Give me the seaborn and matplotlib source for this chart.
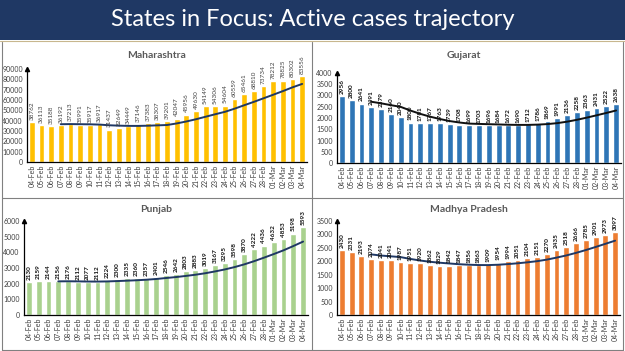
import numpy as np
import pandas as pd
import matplotlib
matplotlib.use("Agg")
import matplotlib.pyplot as plt
import seaborn as sns
from matplotlib.patches import Rectangle
from matplotlib.lines import Line2D

# ------------------------------
# DATA (active cases, 04-Feb to 04-Mar)
# ------------------------------
DATES = [f"{d:02d}-Feb" for d in range(4, 29)] + [f"{d:02d}-Mar" for d in range(1, 5)]

MAHARASHTRA = [38762, 36113, 35188, 36192, 37213, 35991, 35917, 36917, 31437, 32649,
               34449, 37146, 37383, 38307, 39201, 42047, 45956, 49630, 54149, 54306,
               54604, 60559, 65461, 68810, 73734, 78212, 78825, 80302, 83556]
GUJARAT = [2956, 2800, 2641, 2491, 2379, 2160, 2040, 1800, 1781, 1767,
           1763, 1739, 1708, 1699, 1703, 1696, 1684, 1672, 1690, 1712,
           1786, 1869, 1991, 2136, 2258, 2363, 2431, 2522, 2638]
PUNJAB = [2130, 2159, 2144, 2156, 2176, 2112, 2077, 2112, 2224, 2300,
          2335, 2360, 2357, 2401, 2546, 2642, 2803, 2883, 3019, 3167,
          3295, 3598, 3870, 4222, 4436, 4632, 4853, 5198, 5593]
MADHYA_PRADESH = [2430, 2331, 2193, 2074, 2041, 2041, 1987, 1951, 1920, 1862,
                  1829, 1842, 1847, 1856, 1863, 1909, 1954, 1994, 2051, 2104,
                  2151, 2270, 2435, 2518, 2666, 2785, 2901, 2973, 3097]

W, H = 625, 351
NAVY = "#1F3864"
TICK_GREY = "#404040"


def px_box(x0, y0, x1, y1):
    """Pixel box (top-left origin) -> figure fraction rect."""
    return [x0 / W, 1 - y1 / H, (x1 - x0) / W, (y1 - y0) / H]


# name, values, bar colour, trend colour, ymax, step, axes box, title pos, bold labels
PANELS = [
    ("Maharashtra", MAHARASHTRA, "#FFC000", NAVY, 90000, 10000, (27, 69, 307, 162), (156, 55), False),
    ("Gujarat", GUJARAT, "#2E75B6", "#111111", 4000, 500, (337, 73, 621, 163), (464, 55), True),
    ("Punjab", PUNJAB, "#A9D18E", NAVY, 6000, 1000, (24, 221, 308, 315), (156, 210), True),
    ("Madhya Pradesh", MADHYA_PRADESH, "#ED7D31", NAVY, 3500, 500, (337, 221, 620, 315), (469, 210), True),
]


def draw_panel(fig, name, values, color, line_color, ymax, step, box, title_xy, bold):
    ax = fig.add_axes(px_box(*box))
    df = pd.DataFrame({"date": DATES, "cases": values})
    sns.barplot(data=df, x="date", y="cases", color=color, width=0.6,
                saturation=1, ax=ax)

    # 7-day trailing average as the trajectory line
    trend = df["cases"].rolling(7, min_periods=4).mean()
    ax.plot(np.arange(len(DATES)), trend, color=line_color, lw=1.4, zorder=3)

    ax.bar_label(ax.containers[0], labels=[str(v) for v in values], rotation=90,
                 fontsize=4.6, padding=1.5,
                 fontweight="bold" if bold else "normal",
                 color="#111111" if bold else "#404040")

    ax.set_xlim(-0.5, len(DATES) - 0.5)
    ax.set_ylim(0, ymax)
    ax.set_yticks(np.arange(0, ymax + 1, step))
    ax.set_xlabel("")
    ax.set_ylabel("")
    ax.tick_params(axis="x", labelrotation=90, labelsize=5, length=0, pad=2,
                   labelcolor=TICK_GREY)
    ax.tick_params(axis="y", labelsize=5, length=0, pad=3, labelcolor=TICK_GREY)
    sns.despine(ax=ax)
    for s in ["left", "bottom"]:
        ax.spines[s].set_color("black")
        ax.spines[s].set_linewidth(0.9)
    # arrow head on the y axis
    ax.plot(0, 1.0, marker="^", ms=3, color="black", transform=ax.transAxes, clip_on=False)

    fig.text(title_xy[0] / W, 1 - title_xy[1] / H, name, ha="center", va="center",
             fontsize=7.5, fontweight="bold", color="#595959")
    return ax


def main():
    sns.set_theme(style="white")
    plt.rcParams["font.family"] = ["Lato", "DejaVu Sans"]

    fig = plt.figure(figsize=(W / 100, H / 100), dpi=100)
    fig.patch.set_facecolor("white")

    # title banner
    fig.add_artist(Rectangle((0, 1 - 40 / H), 1, 40 / H, transform=fig.transFigure,
                             facecolor=NAVY, edgecolor="none", zorder=0))
    fig.text(0.5, 1 - 20 / H, "States in Focus: Active cases trajectory", ha="center",
             va="center", color="white", fontsize=17)

    # panel frame lines
    grey = "#808080"
    lines = [
        ((0, 1), (41, 41), "#C8B78E"),
        ((2, 2), (42, 350), grey),
        ((623, 623), (42, 350), grey),
        ((312, 312), (42, 350), grey),
        ((2, 623), (198, 198), grey),
        ((2, 623), (350, 350), grey),
    ]
    for xs, ys, c in lines:
        xf = [x / W if x > 1 else x for x in xs]
        yf = [1 - y / H for y in ys]
        fig.add_artist(Line2D(xf, yf, transform=fig.transFigure, color=c, lw=0.8))

    for p in PANELS:
        draw_panel(fig, *p)

    fig.savefig("out.png", dpi=100)
    plt.close(fig)


if __name__ == "__main__":
    main()
